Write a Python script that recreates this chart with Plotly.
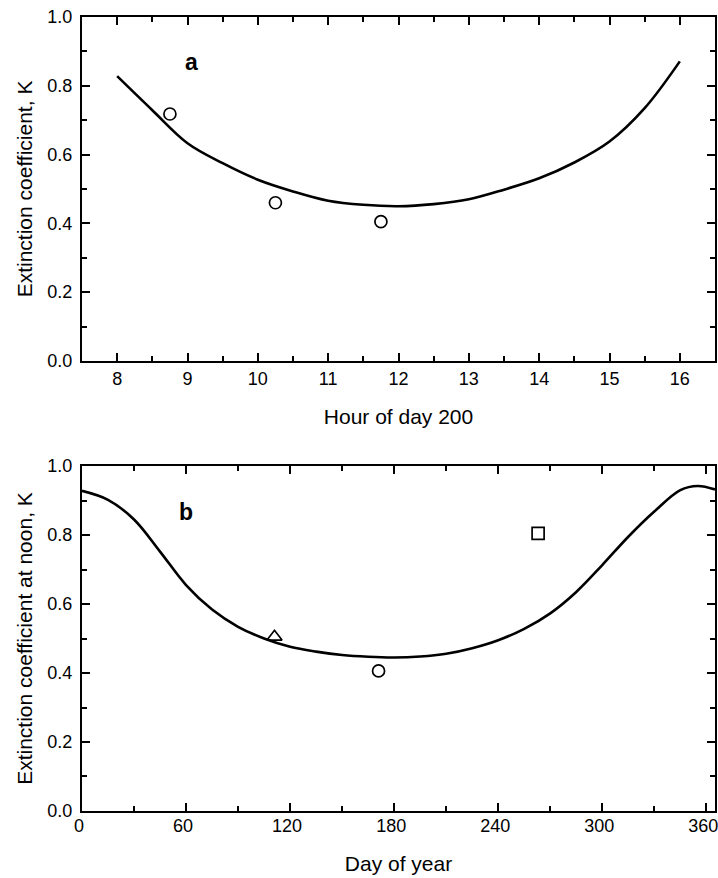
import plotly.graph_objects as go
from plotly.subplots import make_subplots

# Panel a: hour of day 200
hours = [8.0, 8.5, 9.0, 9.5, 10.0, 10.5, 11.0, 11.5, 12.0, 12.5, 13.0, 13.5, 14.0, 14.5, 15.0, 15.5, 16.0]
k_hour = [0.828, 0.729, 0.633, 0.575, 0.527, 0.493, 0.466, 0.454, 0.450, 0.456, 0.470, 0.498, 0.531, 0.577, 0.638, 0.735, 0.871]
obs_hours = [8.75, 10.25, 11.75]
obs_k_hour = [0.718, 0.460, 0.405]

# Panel b: day of year
days = [0, 15, 30, 45, 60, 75, 90, 105, 120, 135, 150, 165, 180, 195, 210, 225, 240, 255, 270, 285, 300, 315, 330, 345, 355, 365]
k_day = [0.928, 0.902, 0.845, 0.752, 0.655, 0.584, 0.534, 0.500, 0.476, 0.462, 0.452, 0.447, 0.445, 0.448, 0.456, 0.472, 0.495, 0.528, 0.573, 0.635, 0.713, 0.795, 0.868, 0.930, 0.942, 0.932]
tri_day, tri_k = [111], [0.505]
circ_day, circ_k = [171], [0.406]
sq_day, sq_k = [263], [0.805]

FONT = "Liberation Sans, Arial, sans-serif"

fig = make_subplots(rows=2, cols=1)

fig.add_trace(go.Scatter(x=hours, y=k_hour, mode="lines", line=dict(color="black", width=2.6, shape="spline"),
                         showlegend=False), row=1, col=1)
fig.add_trace(go.Scatter(x=obs_hours, y=obs_k_hour, mode="markers",
                         marker=dict(symbol="circle-open", size=12, color="black", line=dict(width=1.7)),
                         showlegend=False), row=1, col=1)

fig.add_trace(go.Scatter(x=days, y=k_day, mode="lines", line=dict(color="black", width=2.6, shape="spline"),
                         showlegend=False), row=2, col=1)
fig.add_trace(go.Scatter(x=tri_day, y=tri_k, mode="markers",
                         marker=dict(symbol="triangle-up-open", size=13, color="black", line=dict(width=1.7)),
                         showlegend=False), row=2, col=1)
fig.add_trace(go.Scatter(x=circ_day, y=circ_k, mode="markers",
                         marker=dict(symbol="circle-open", size=12, color="black", line=dict(width=1.7)),
                         showlegend=False), row=2, col=1)
fig.add_trace(go.Scatter(x=sq_day, y=sq_k, mode="markers",
                         marker=dict(symbol="square-open", size=12, color="black", line=dict(width=1.7)),
                         showlegend=False), row=2, col=1)

axis_common = dict(showgrid=False, zeroline=False, showline=True, linecolor="black", linewidth=2,
                   mirror="allticks", ticks="inside", ticklen=8, tickwidth=2, tickcolor="black",
                   tickfont=dict(family=FONT, size=18, color="black"),
                   ticklabeloverflow="allow", automargin=False)

minor_style = dict(ticks="inside", ticklen=5, tickwidth=1.5, tickcolor="black", showgrid=False)
TITLE_FONT = dict(family=FONT, size=21, color="black")

fig.update_layout(
    width=718, height=878,
    margin=dict(l=82, r=3, t=17, b=67),
    paper_bgcolor="white", plot_bgcolor="white",
    font=dict(family=FONT, color="black"),
    xaxis=dict(domain=[0, 1], range=[7.5, 16.5], dtick=1, tick0=0,
               minor=dict(dtick=0.5, **minor_style),
               ticklabelstandoff=0,
               title=dict(text="Hour of day 200", font=TITLE_FONT, standoff=22),
               anchor="y", **axis_common),
    yaxis=dict(domain=[0.5668, 1.0], range=[0, 1.0], dtick=0.2, tickformat=".1f",
               minor=dict(dtick=0.1, **minor_style),
               ticklabelstandoff=4,
               title=dict(text="Extinction coefficient, K", font=TITLE_FONT, standoff=9),
               anchor="x", **axis_common),
    xaxis2=dict(domain=[0, 1], range=[0, 365], dtick=60, tick0=0,
                minor=dict(dtick=30, **minor_style),
                ticklabelstandoff=-3, ticklabelshift=-3,
                title=dict(text="Day of year", font=TITLE_FONT, standoff=22),
                anchor="y2", **axis_common),
    yaxis2=dict(domain=[0.0, 0.4345], range=[0, 1.0], dtick=0.2, tickformat=".1f",
                minor=dict(dtick=0.1, **minor_style),
                ticklabelstandoff=4,
                title=dict(text="Extinction coefficient at noon, K", font=TITLE_FONT, standoff=9),
                anchor="x2", **axis_common),
    annotations=[
        dict(text="<b>a</b>", x=9.06, y=0.869, xref="x", yref="y", showarrow=False,
             font=dict(family=FONT, size=23, color="black")),
        dict(text="<b>b</b>", x=60, y=0.867, xref="x2", yref="y2", showarrow=False,
             font=dict(family=FONT, size=23, color="black")),
    ],
)

fig.write_html("out.html")
